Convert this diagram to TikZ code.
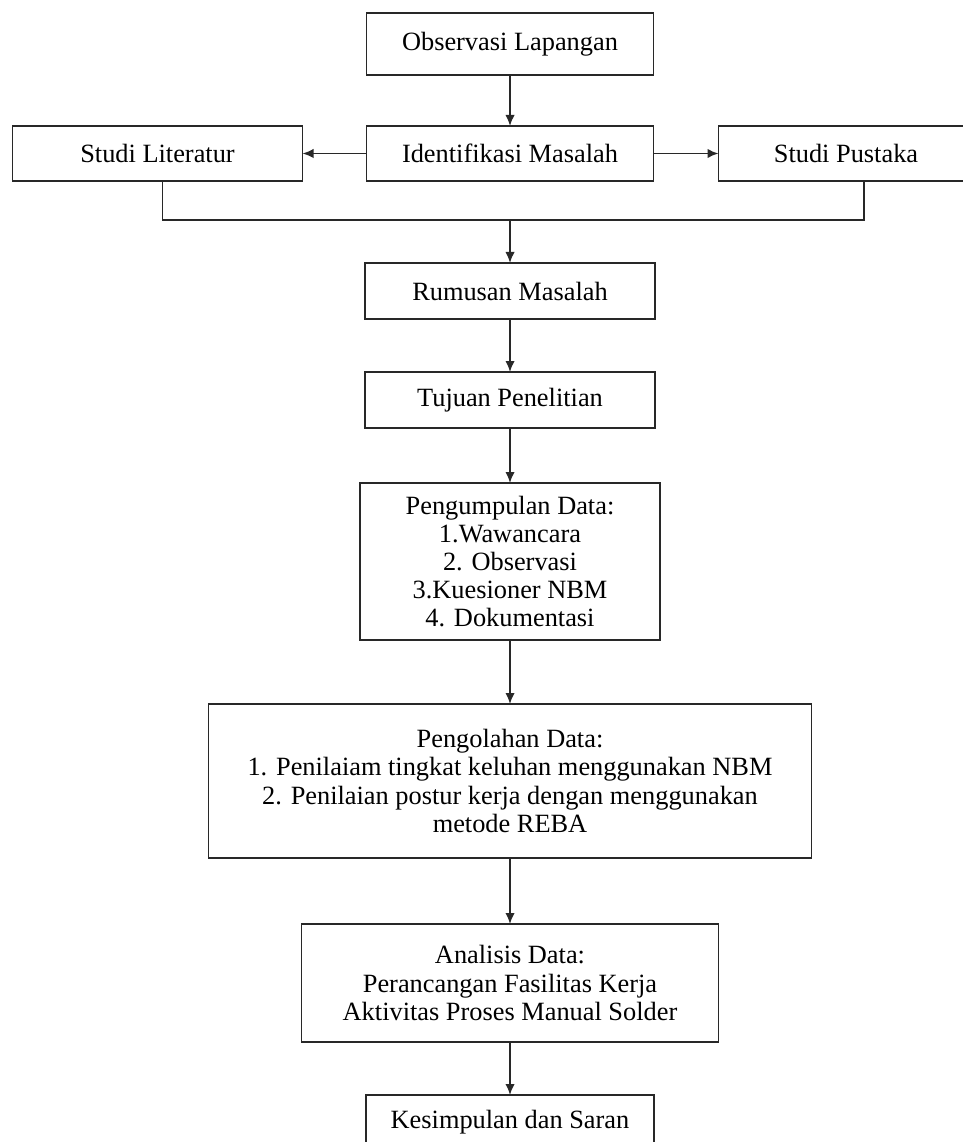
\documentclass[tikz,border=0pt]{standalone}
\usepackage{fontspec}
\setmainfont{Liberation Serif}
\usepackage{tikz}
\usepackage{xcolor}
\definecolor{edge}{RGB}{40,40,40}
\usetikzlibrary{positioning, arrows.meta}
\tikzstyle{Box} = [
draw=edge,
line width=1.1pt,
align=center,
inner sep=2pt,
outer sep=0pt,
font=\fontsize{15}{16}\selectfont]
\tikzstyle{Arrow} = [
draw=edge,
line width=1.1pt,
-{Latex[length=2.2mm, width=1.9mm]}]
\tikzstyle{Line} = [draw=edge, line width=1.1pt]

\begin{document}
\begin{tikzpicture}
    \useasboundingbox (0,0) rectangle (19.26,-22.84);
    \node [Box, minimum width=5.74cm, minimum height=1.24cm] (obs) at (10.2,-0.88) {Observasi Lapangan};
    \node [Box, minimum width=5.74cm, minimum height=1.1cm, below=1.02cm of obs] (idf) {Identifikasi Masalah};
    \node [Box, minimum width=5.8cm, minimum height=1.1cm, left=1.28cm of idf] (lit) {Studi Literatur};
    \node [Box, minimum width=5.1cm, minimum height=1.1cm, right=1.3cm of idf] (pus) {Studi Pustaka};
    \node [Box, minimum width=5.8cm, minimum height=1.12cm, below=1.64cm of idf] (rum) {Rumusan Masalah};
    \node [Box, minimum width=5.8cm, minimum height=1.12cm, below=1.06cm of rum] (tuj) {Tujuan Penelitian};
    \node [Box, minimum width=6cm, minimum height=3.14cm, below=1.1cm of tuj] (kum)
        {Pengumpulan Data:\\1.Wawancara\\2. Observasi\\3.Kuesioner NBM\\4. Dokumentasi};
    \node [Box, minimum width=12.06cm, minimum height=3.08cm, below=1.28cm of kum] (olah)
        {Pengolahan Data:\\1. Penilaiam tingkat keluhan menggunakan NBM\\2. Penilaian postur kerja dengan menggunakan\\metode REBA};
    \node [Box, minimum width=8.34cm, minimum height=2.36cm, below=1.32cm of olah] (ana)
        {Analisis Data:\\Perancangan Fasilitas Kerja\\Aktivitas Proses Manual Solder};
    % box runs past the bottom edge, text sits near its top
    \node [Box, minimum width=5.76cm, text height=0.6cm, text depth=0.5cm, below=1.06cm of ana] (kes) {Kesimpulan dan Saran};
    \coordinate [below=0.78cm of idf.south] (jn);

    \draw[Arrow] (obs) -- (idf);
    \draw[Arrow] (idf.west) -- (lit.east);
    \draw[Arrow] (idf.east) -- (pus.west);
    \draw[Line] ([xshift=0.1cm]lit.south) |- (jn) -| ([xshift=0.36cm]pus.south);
    \draw[Arrow] (jn) -- (rum);
    \draw[Arrow] (rum) -- (tuj);
    \draw[Arrow] (tuj) -- (kum);
    \draw[Arrow] (kum) -- (olah);
    \draw[Arrow] (olah) -- (ana);
    \draw[Arrow] (ana) -- (kes);
\end{tikzpicture}
\end{document}
